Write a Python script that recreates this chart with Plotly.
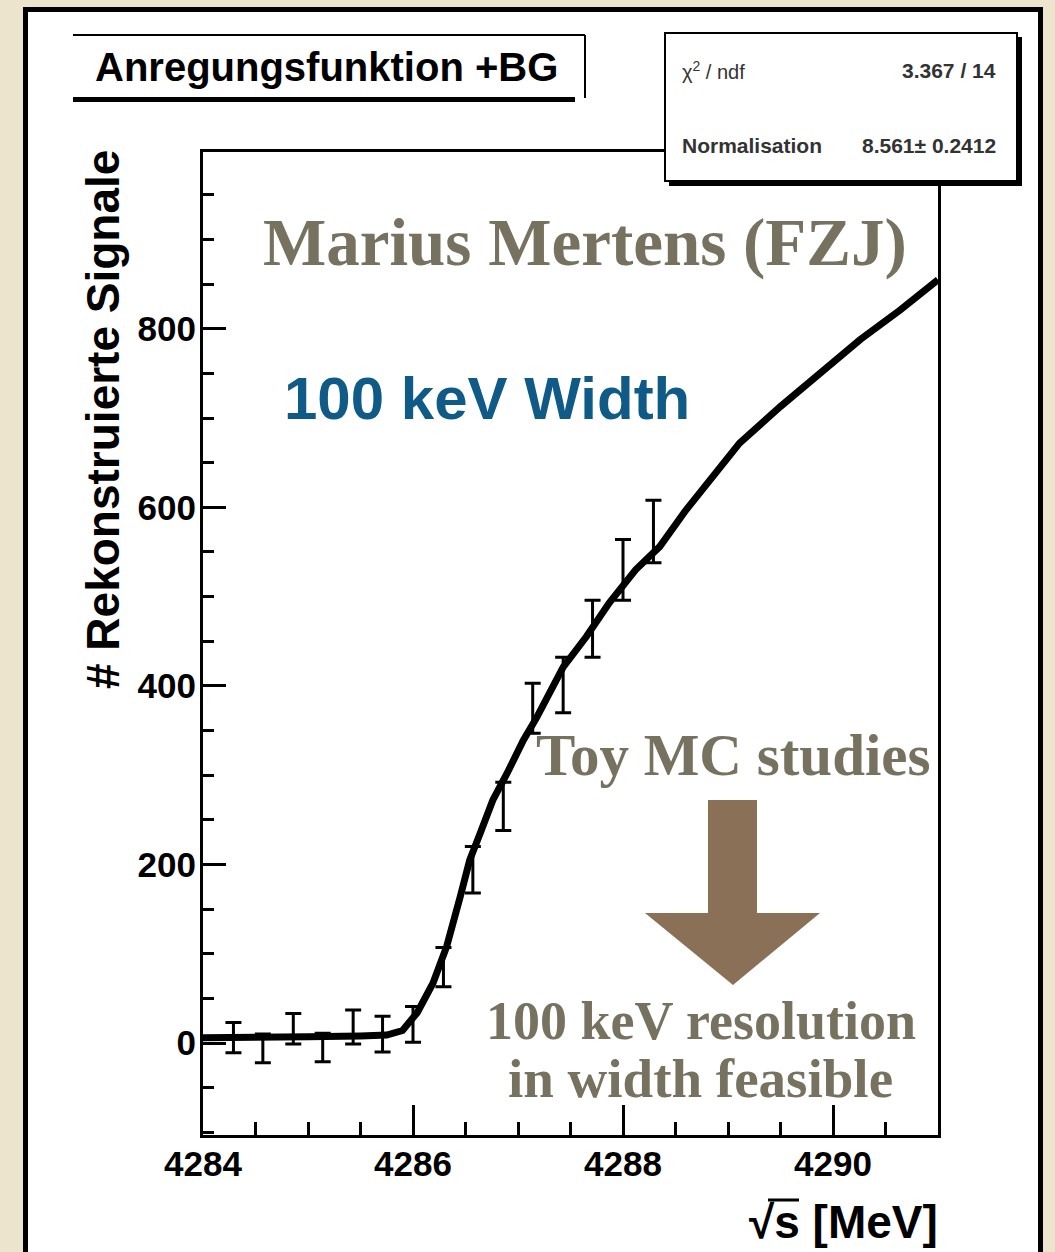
import plotly.graph_objects as go

# ---- data -------------------------------------------------------------
# fitted excitation function (+ background)
fit_x = [4284.0, 4284.5, 4285.0, 4285.5, 4285.75, 4285.9, 4286.04, 4286.19,
         4286.32, 4286.45, 4286.54, 4286.64, 4286.76, 4286.90, 4287.05,
         4287.18, 4287.43, 4287.65, 4287.87, 4288.12, 4288.35, 4288.60,
         4288.73, 4289.11, 4289.50, 4289.88, 4290.26, 4290.64, 4290.95, 4291.0]
fit_y = [6, 6, 7, 8, 9, 14, 34, 67, 108, 164, 205, 235, 272, 303, 339,
         365, 421, 455, 493, 530, 556, 597, 616, 672, 713, 751, 788, 821, 851, 855]

# reconstructed signals per energy point
pt_x = [4284.29, 4284.57, 4284.86, 4285.14, 4285.43, 4285.71, 4286.00,
        4286.29, 4286.57, 4286.86, 4287.14, 4287.43, 4287.71, 4288.00, 4288.29]
pt_y = [6, -6, 16, -5, 18, 10, 21, 85, 194, 265, 375, 401, 464, 530, 573]
pt_err = [17, 16, 17, 16, 19, 20, 20, 22, 26, 27, 28, 31, 32, 34, 35]

x_ticks = [4284, 4286, 4288, 4290]
y_ticks = [0, 200, 400, 600, 800]

chi2_ndf = "3.367 / 14"
norm_text = "8.561\u00b1 0.2412"

# ---- page geometry ----------------------------------------------------
W, H = 1055, 1252
L, R, T, B = 203, 938, 152, 1135   # plot area edges in page pixels


def px(x):
    return (x - L) / (R - L)


def py(y):
    return (B - y) / (B - T)


BEIGE = "#ECE4CC"
GREY = "#77715F"
BLUE = "#0F5A86"
BROWN = "#8B7058"
SANS = "Liberation Sans, Arial, sans-serif"
SERIF = "Liberation Serif, Times New Roman, serif"

fig = go.Figure()

fig.add_trace(go.Scatter(
    x=fit_x, y=fit_y, mode="lines",
    line=dict(color="black", width=7),
    hoverinfo="skip", showlegend=False,
))

fig.add_trace(go.Scatter(
    x=pt_x, y=pt_y, mode="markers",
    marker=dict(color="black", size=1),
    error_y=dict(type="data", array=pt_err, visible=True,
                 color="black", thickness=3, width=8),
    showlegend=False,
))

shapes = []
# white canvas with black frame
shapes.append(dict(type="rect", xref="paper", yref="paper",
                   x0=px(25.5), x1=px(1040.5), y0=py(1300), y1=py(9.5),
                   fillcolor="white", line=dict(color="black", width=5),
                   layer="below"))

# title box (thin top/right edge, heavy bottom edge)
shapes.append(dict(type="rect", xref="paper", yref="paper",
                   x0=px(73), x1=px(585), y0=py(99), y1=py(35),
                   fillcolor="white", line=dict(width=0), layer="above"))
shapes.append(dict(type="line", xref="paper", yref="paper",
                   x0=px(73), x1=px(585), y0=py(35), y1=py(35),
                   line=dict(color="black", width=2), layer="above"))
shapes.append(dict(type="line", xref="paper", yref="paper",
                   x0=px(585), x1=px(585), y0=py(35), y1=py(98),
                   line=dict(color="black", width=2), layer="above"))
shapes.append(dict(type="line", xref="paper", yref="paper",
                   x0=px(73), x1=px(575), y0=py(99.5), y1=py(99.5),
                   line=dict(color="black", width=5), layer="above"))

# statistics box with drop shadow
shapes.append(dict(type="rect", xref="paper", yref="paper",
                   x0=px(669), x1=px(1022), y0=py(186), y1=py(37),
                   fillcolor="black", line=dict(width=0), layer="above"))
shapes.append(dict(type="rect", xref="paper", yref="paper",
                   x0=px(665), x1=px(1017), y0=py(181), y1=py(33),
                   fillcolor="white", line=dict(color="black", width=2),
                   layer="above"))

# big arrow
pts = [(708, 800), (757, 800), (757, 913), (820, 913), (733, 985),
       (645, 913), (708, 913)]
path = "M " + " L ".join(f"{px(a):.5f},{py(b):.5f}" for a, b in pts) + " Z"
shapes.append(dict(type="path", xref="paper", yref="paper", path=path,
                   fillcolor=BROWN, line=dict(width=0), layer="above"))

# vinculum of the square root in the x-axis title
shapes.append(dict(type="line", xref="paper", yref="paper",
                   x0=px(768), x1=px(799), y0=py(1200), y1=py(1200),
                   line=dict(color="black", width=3), layer="above"))

annotations = []


def note(text, x, y, size, color="black", family=SANS, xanchor="center",
         yanchor="middle", angle=0, weight="bold"):
    annotations.append(dict(
        text=text, x=px(x), y=py(y), xref="paper", yref="paper",
        xanchor=xanchor, yanchor=yanchor, showarrow=False, textangle=angle,
        font=dict(size=size, color=color, family=family, weight=weight),
    ))


note("Anregungsfunktion +BG", 326, 67, 40)
note("\u03c7<sup>2</sup> / ndf", 680, 70, 20, color="#333333",
     xanchor="left", weight="normal")
note(chi2_ndf, 998, 70, 21, color="#333333", xanchor="right")
note("Normalisation", 680, 146, 21, color="#333333", xanchor="left")
note(norm_text, 998, 146, 21, color="#333333", xanchor="right")

note("Marius Mertens (FZJ)", 585, 242, 67, color=GREY, family=SERIF)
note("100 keV Width", 487, 398, 60, color=BLUE)
note("Toy MC studies", 733, 755, 59, color=GREY, family=SERIF)
note("100 keV resolution", 701, 1021, 54, color=GREY, family=SERIF)
note("in width feasible", 700, 1078, 55, color=GREY, family=SERIF)

note("# Rekonstruierte Signale", 103, 420, 46, angle=-90)
note("\u221as [MeV]", 940, 1222, 46, xanchor="right")

fig.update_layout(
    width=W, height=H, autosize=False,
    margin=dict(l=L, r=W - R, t=T, b=H - B, pad=0),
    paper_bgcolor=BEIGE, plot_bgcolor="white",
    shapes=shapes, annotations=annotations,
    showlegend=False,
)

fig.update_xaxes(
    range=[4284, 4291], tickmode="array", tickvals=x_ticks,
    ticktext=[str(v) for v in x_ticks],
    ticks="inside", ticklen=30, tickwidth=3, tickcolor="black",
    minor=dict(dtick=0.5, tick0=4284, ticks="inside", ticklen=13,
               tickwidth=3, tickcolor="black"),
    showline=True, linewidth=3, linecolor="black", mirror=True,
    showgrid=False, zeroline=False,
    tickfont=dict(family=SANS, size=35, color="black", weight="bold"),
    ticklabelstandoff=-4,
)
fig.update_yaxes(
    range=[-103, 998], tickmode="array", tickvals=y_ticks,
    ticktext=[str(v) for v in y_ticks],
    ticks="inside", ticklen=23, tickwidth=3, tickcolor="black",
    minor=dict(dtick=50, tick0=0, ticks="inside", ticklen=11,
               tickwidth=3, tickcolor="black"),
    showline=True, linewidth=3, linecolor="black", mirror=True,
    showgrid=False, zeroline=False,
    tickfont=dict(family=SANS, size=35, color="black", weight="bold"),
    ticklabelstandoff=-3,
)

fig.write_html("out.html")
